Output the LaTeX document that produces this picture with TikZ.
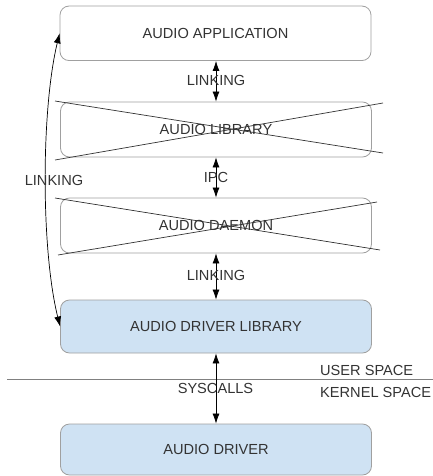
\documentclass[tikz,border=0pt]{standalone}
\usepackage{fontspec}
\setmainfont{Liberation Sans}
\usetikzlibrary{arrows.meta}
\definecolor{txt}{HTML}{333333}
\definecolor{edge}{HTML}{A0A0A0}
\definecolor{bluefill}{HTML}{CFE2F3}
\tikzset{
  box/.style={draw=edge, line width=0.8pt, rounded corners=9pt, minimum width=311pt,
    text=txt, font=\fontsize{14.6pt}{16pt}\selectfont, inner sep=0pt},
  plainbox/.style={box, fill=white},
  bluebox/.style={box, fill=bluefill},
  lbl/.style={text=txt, font=\fontsize{14.6pt}{16pt}\selectfont, inner sep=0pt},
  link/.style={line width=0.7pt, black, {Latex[length=10pt,width=7pt]}-{Latex[length=10pt,width=7pt]}},
  strike/.style={line width=0.7pt, draw=black!80}
}
\begin{document}
\begin{tikzpicture}[x=1pt, y=-1pt]
  \useasboundingbox (0,0) rectangle (433,476);

  % layers of the audio stack
  \node[plainbox, minimum height=54.5pt] (app)    at (215.5,33.3)  {AUDIO APPLICATION};
  \node[plainbox, minimum height=55pt]   (lib)    at (216,129.5)   {AUDIO LIBRARY};
  \node[plainbox, minimum height=55pt]   (daemon) at (216,225.5)   {AUDIO DAEMON};
  \node[bluebox,  minimum height=53pt]   (drvlib) at (216,326.5)   {AUDIO DRIVER LIBRARY};
  \node[bluebox,  minimum height=51pt]   (drv)    at (216,449.5)   {AUDIO DRIVER};

  % crossed-out layers
  \draw[strike] (55,101) -- (383,153);
  \draw[strike] (55,160) -- (383,103);
  \draw[strike] (55,198) -- (380,250);
  \draw[strike] (58,255) -- (377,202);

  % user / kernel boundary
  \coordinate (sepL) at (7,379);
  \coordinate (sepR) at (433,379);
  \draw[edge!80!black, line width=0.8pt] (sepL) -- (sepR);
  \node[lbl, anchor=west] (user)   at (320,370) {USER SPACE};
  \node[lbl, anchor=west] (kernel) at (320,392) {KERNEL SPACE};

  % vertical links between layers
  \draw[link] ([xshift=0.5pt]app.south) -- (lib.north);
  \draw[link] (lib.south) -- (daemon.north);
  \draw[link] (daemon.south) -- (drvlib.north);
  \draw[link] (drvlib.south) -- (drv.north);

  \node[lbl] (l1) at (216,80.5) {LINKING};
  \node[lbl] (l2) at (216,177)  {IPC};
  \node[lbl] (l3) at (216,275)  {LINKING};
  \node[lbl] (l4) at (215.5,388) {SYSCALLS};

  % direct linking from application to driver library
  \draw[link] (app.west) .. controls (41,110) and (41,250) .. (drvlib.west);
  \node[lbl] (l5) at (54,180) {LINKING};
\end{tikzpicture}
\end{document}
